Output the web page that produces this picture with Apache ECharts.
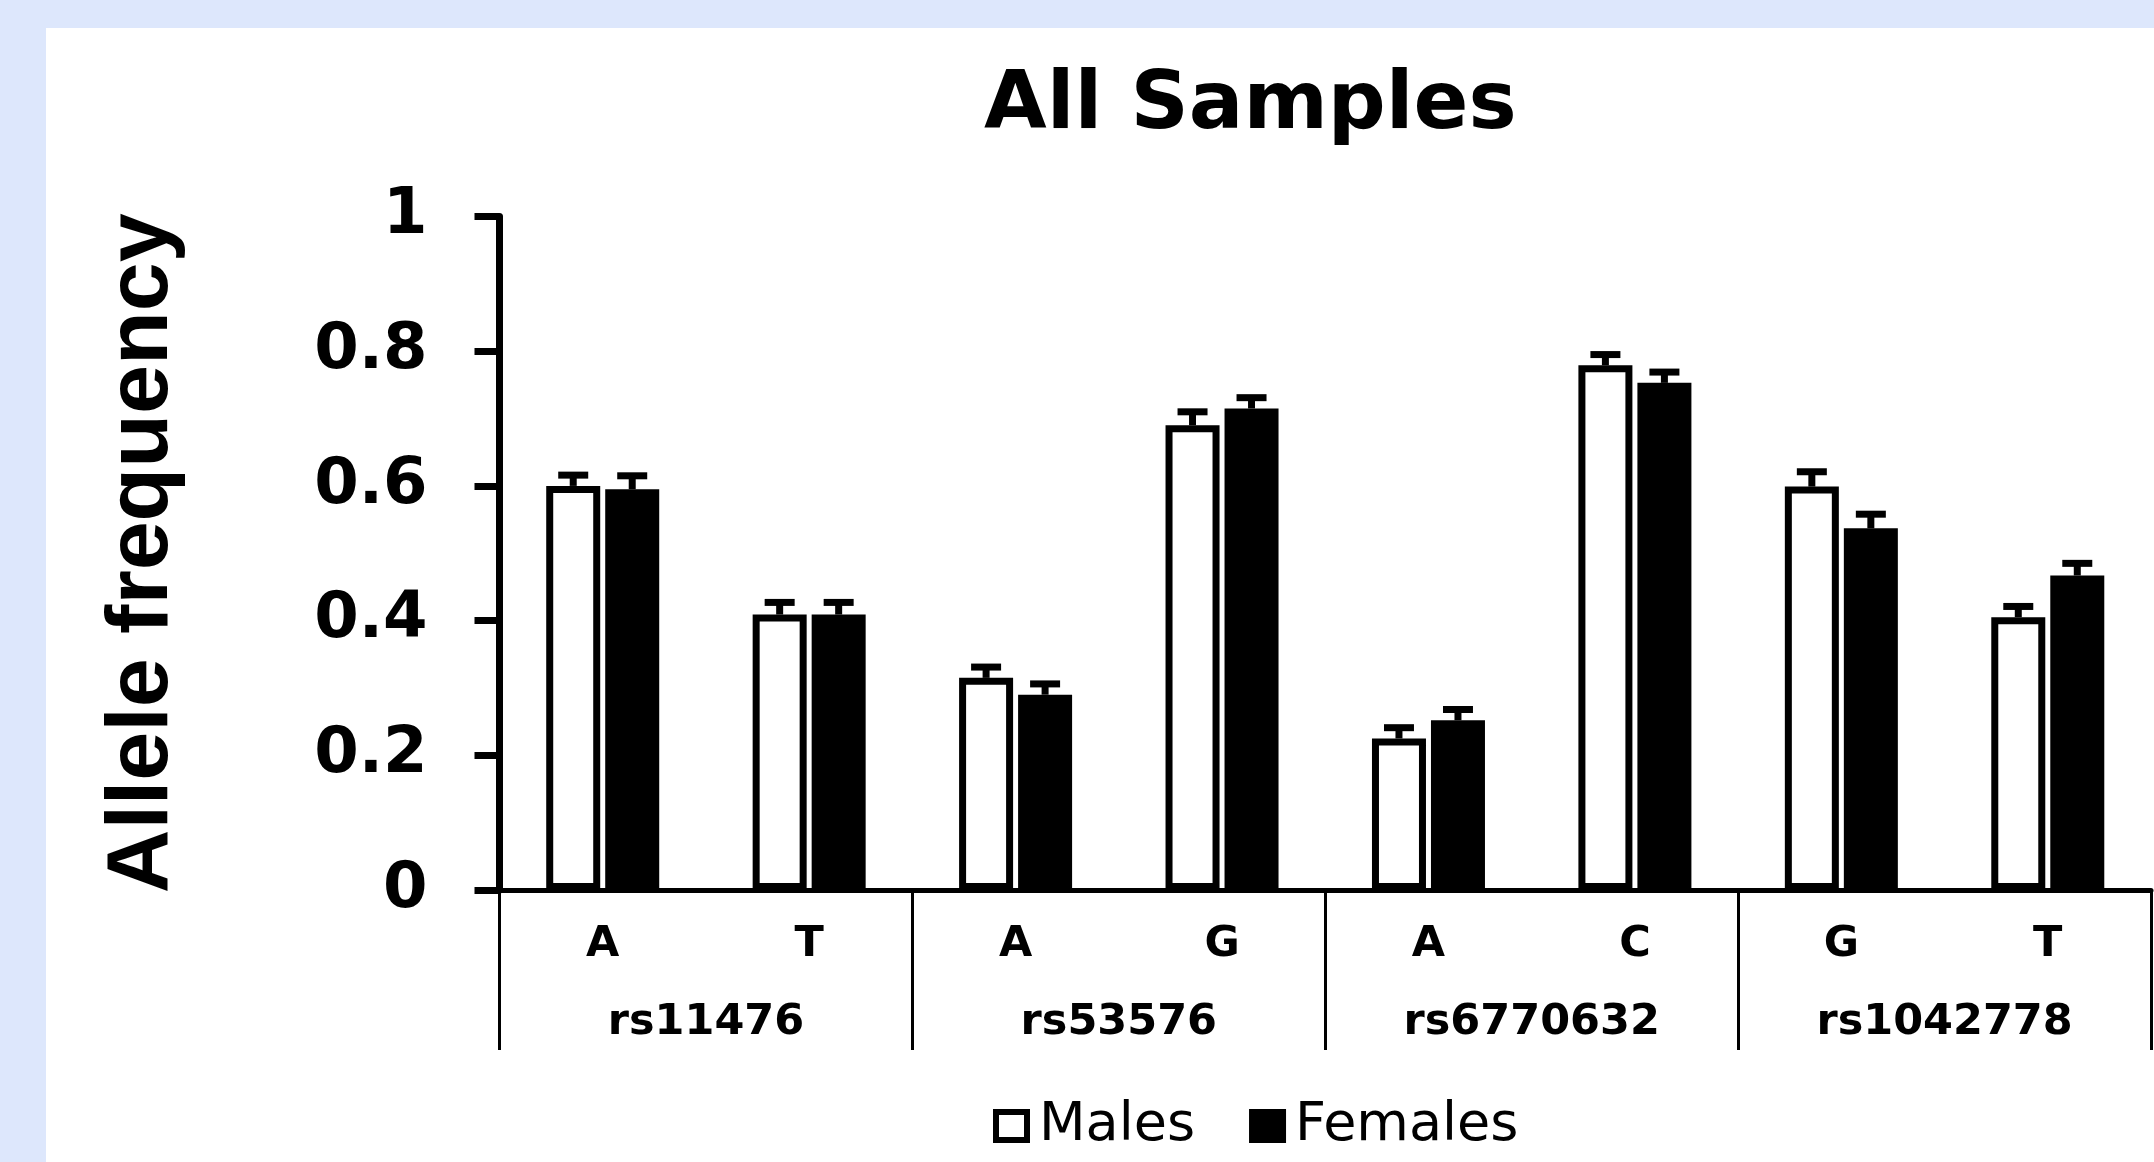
<!DOCTYPE html>
<html>
<head>
<meta charset="utf-8">
<script src="https://cdn.jsdelivr.net/npm/echarts@6/dist/echarts.min.js"></script>
<style>
  html, body { margin: 0; padding: 0; background: #dde7fc; }
  .panel { position: absolute; left: 46px; top: 28px; right: 0; bottom: 0; background: #fff; }
  #chart { position: absolute; left: 0; top: 0; width: 2154px; height: 1162px; }
</style>
</head>
<body>
<div class="panel"></div>
<div id="chart"></div>
<script>
  // alleles per SNP (two per group)
  const alleles = ['A', 'T', 'A', 'G', 'A', 'C', 'G', 'T'];
  const snps = ['rs11476', 'rs53576', 'rs6770632', 'rs1042778'];
  const males = [0.600, 0.409, 0.315, 0.690, 0.225, 0.779, 0.599, 0.405];
  const malesErr = [0.016, 0.018, 0.016, 0.020, 0.016, 0.016, 0.022, 0.016];
  const females = [0.595, 0.409, 0.290, 0.715, 0.252, 0.753, 0.537, 0.467];
  const femalesErr = [0.020, 0.018, 0.016, 0.016, 0.016, 0.016, 0.021, 0.018];
  const yTicks = ['0', '0.2', '0.4', '0.6', '0.8', '1'];

  const barW = 54;
  const gapPx = 5;
  const wide = '"DejaVu Sans", sans-serif';

  function errorBars(vals, errs, side) {
    return {
      type: 'custom',
      z: 5,
      silent: true,
      data: vals.map((v, i) => [i, v, errs[i]]),
      renderItem(params, api) {
        const top = api.coord([api.value(0), api.value(1)]);
        const hi = api.coord([api.value(0), api.value(1) + api.value(2)]);
        const x = top[0] + side * (barW + gapPx) / 2;
        const st = { stroke: '#000', lineWidth: 7 };
        return {
          type: 'group',
          children: [
            { type: 'line', shape: { x1: x, y1: top[1], x2: x, y2: hi[1] }, style: st },
            { type: 'line', shape: { x1: x - 15, y1: hi[1], x2: x + 15, y2: hi[1] }, style: st }
          ]
        };
      }
    };
  }

  const chart = echarts.init(document.getElementById('chart'));
  chart.setOption({
    backgroundColor: 'transparent',
    animation: false,
    title: {
      text: 'All Samples',
      left: 984,
      top: 66,
      padding: 0,
      textStyle: { fontFamily: wide, fontWeight: 'bold', fontSize: 81, color: '#000' }
    },
    legend: {
      left: 993,
      top: 1099,
      padding: 0,
      itemWidth: 31,
      itemHeight: 28,
      itemGap: 54,
      icon: 'rect',
      textStyle: { fontFamily: wide, fontSize: 54, color: '#000', padding: [0, 0, 0, 7] },
      data: [
        { name: 'Males', itemStyle: { color: '#fff', borderColor: '#000', borderWidth: 6 } },
        { name: 'Females', itemStyle: { color: '#000', borderColor: '#000', borderWidth: 6 } }
      ]
    },
    grid: { left: 499.5, right: 3, top: 216.5, bottom: 272, containLabel: false },
    xAxis: [
      {
        type: 'category',
        data: alleles,
        position: 'bottom',
        axisLine: { show: true, lineStyle: { color: '#000', width: 5 } },
        axisTick: { show: false },
        splitLine: { show: false },
        axisLabel: { interval: 0, margin: 33, color: '#000', fontFamily: wide, fontWeight: 'bold', fontSize: 43 }
      },
      {
        type: 'category',
        data: snps,
        position: 'bottom',
        axisLine: { show: false },
        axisTick: { show: true, length: 160, lineStyle: { color: '#000', width: 3 } },
        splitLine: { show: false },
        axisLabel: { interval: 0, margin: 111, color: '#000', fontFamily: wide, fontWeight: 'bold', fontSize: 43 }
      }
    ],
    yAxis: {
      type: 'value',
      min: 0,
      max: 1,
      interval: 0.2,
      name: 'Allele frequency',
      nameLocation: 'middle',
      nameGap: 313,
      nameTextStyle: {
        fontFamily: '"Liberation Sans", Arial, sans-serif',
        fontWeight: 'bold',
        fontSize: 88,
        color: '#000'
      },
      axisLine: { show: true, lineStyle: { color: '#000', width: 7 } },
      axisTick: { show: true, length: 25, lineStyle: { color: '#000', width: 7 } },
      splitLine: { show: false },
      axisLabel: {
        margin: 72,
        color: '#000',
        fontFamily: wide,
        fontWeight: 'bold',
        fontSize: 64,
        formatter: (v) => yTicks[Math.round(v / 0.2)]
      }
    },
    series: [
      {
        name: 'Males',
        type: 'bar',
        data: males,
        barWidth: barW,
        barGap: (gapPx / barW * 100) + '%',
        itemStyle: { color: '#fff', borderColor: '#000', borderWidth: 7 }
      },
      {
        name: 'Females',
        type: 'bar',
        data: females,
        barWidth: barW,
        itemStyle: { color: '#000', borderColor: '#000', borderWidth: 0 }
      },
      errorBars(males, malesErr, -1),
      errorBars(females, femalesErr, 1)
    ]
  });
</script>
</body>
</html>
